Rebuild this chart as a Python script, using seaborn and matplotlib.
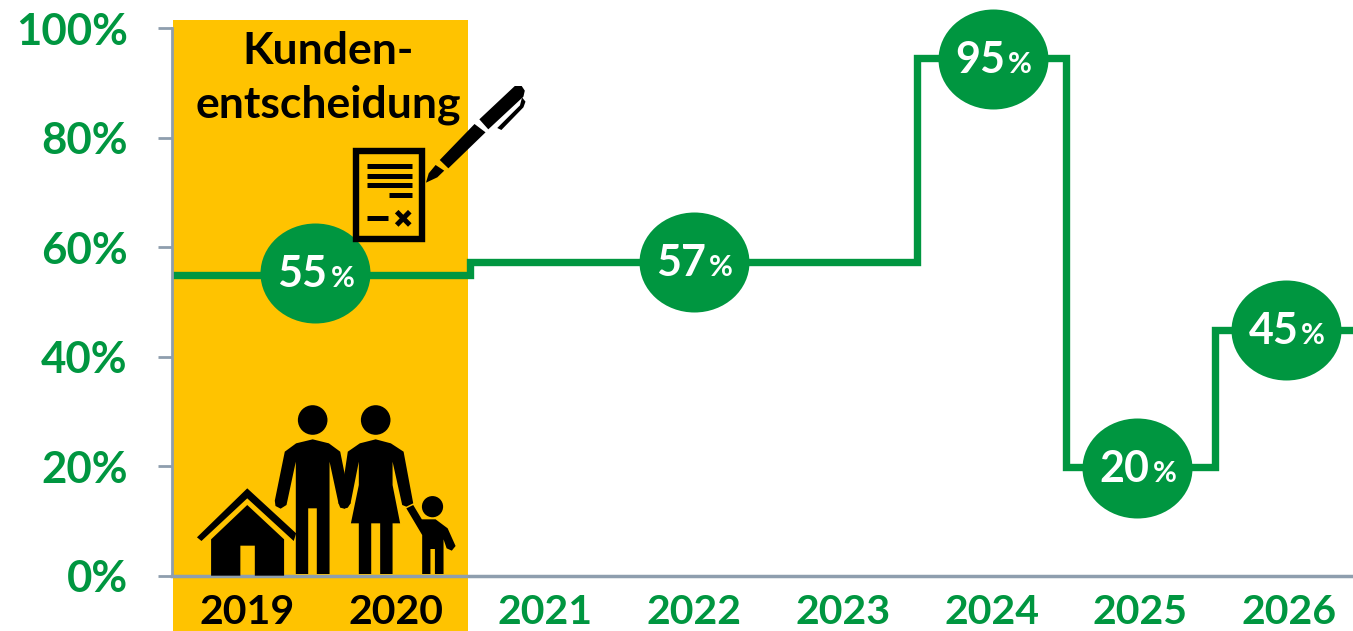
import matplotlib
matplotlib.use("Agg")
import matplotlib.pyplot as plt
from matplotlib.patches import Circle, Polygon, Rectangle
from matplotlib.path import Path
from matplotlib.transforms import Affine2D
import pandas as pd
import seaborn as sns

years = [2019, 2020, 2021, 2022, 2023, 2024, 2025, 2026]
shares = [55, 55, 57.3, 57.3, 57.3, 94.6, 19.8, 44.8]
bubble_years = [2019.46, 2022, 2024.01, 2024.98, 2025.98]
bubble_values = [55.3, 57.3, 94.4, 19.6, 44.8]
bubble_labels = ["55", "57", "95", "20", "45"]
y_ticks = [0, 20, 40, 60, 80, 100]
y_labels = ["0%", "20%", "40%", "60%", "80%", "100%"]
band_years = (2018.5, 2020.485)
band_label = "Kunden-\nentscheidung"

GREEN = "#009640"
YELLOW = "#FFC300"
GREY = "#8E9EAE"

sns.set_theme(style="white")
plt.rcParams["font.family"] = ["Lato", "DejaVu Sans"]

W, H = 1353, 631
fig = plt.figure(figsize=(W / 100, H / 100), dpi=100)
ax = fig.add_axes([172 / W, (H - 575.5) / H, (W - 172) / W, 555.5 / H])

# line runs out to the edges of the axes, so repeat first and last value
line_df = pd.DataFrame({
    "year": [band_years[0]] + years + [years[-1] + 0.5],
    "share": [shares[0]] + shares + [shares[-1]],
})
ax.axvspan(band_years[0], band_years[1], ymin=-0.1, ymax=1, color=YELLOW, lw=0, clip_on=False, zorder=0)
sns.lineplot(data=line_df, x="year", y="share", drawstyle="steps-mid", color=GREEN, lw=5.3,
             errorbar=None, ax=ax, zorder=2, solid_joinstyle="miter")

# bubbles are a bit wider than high
ellipse = Path.unit_circle().transformed(Affine2D().scale(1, 100 / 110))
sns.scatterplot(x=bubble_years, y=bubble_values, marker=ellipse, s=(110 * 0.72) ** 2, color=GREEN,
                linewidth=0, ax=ax, zorder=3, clip_on=False)
for x, y, lab in zip(bubble_years, bubble_values, bubble_labels):
    ax.annotate(lab, (x, y), xytext=(12, -14), textcoords="offset pixels", ha="right", va="baseline",
                color="white", fontsize=31, fontweight="bold", zorder=4)
    ax.annotate("%", (x, y), xytext=(15, -14), textcoords="offset pixels", ha="left", va="baseline",
                color="white", fontsize=21, fontweight="bold", zorder=4)

ax.set_xlim(2019 + (172 - 247) / 148.9, 2019 + (W - 247) / 148.9)
ax.set_ylim(0, 555.5 / 5.47)
ax.set_xlabel("")
ax.set_ylabel("")
ax.set_xticks(years)
ax.set_xticklabels([str(y) for y in years], fontsize=29.5, fontweight="bold", color=GREEN)
ax.get_xticklabels()[0].set_color("black")
ax.get_xticklabels()[1].set_color("black")
ax.set_yticks(y_ticks)
ax.set_yticklabels(y_labels, fontsize=31.5, fontweight="bold", color=GREEN)
ax.tick_params(axis="x", length=0, pad=13)
ax.tick_params(axis="y", left=True, length=10, width=2, color=GREY, pad=22)
sns.despine(ax=ax, top=True, right=True)
ax.spines["left"].set_bounds(0, 100)
ax.spines["left"].set_color(GREY)
ax.spines["left"].set_linewidth(2)
ax.spines["bottom"].set_color(GREY)
ax.spines["bottom"].set_linewidth(2.5)
ax.spines["bottom"].set_zorder(5)

# overlay in image pixels for the pictograms
ov = fig.add_axes([0, 0, 1, 1], facecolor="none")
ov.set_xlim(0, W)
ov.set_ylim(H, 0)
ov.axis("off")
ov.text(328, 78, band_label, ha="center", va="center", fontsize=32, fontweight="bold", color="black",
        linespacing=1.38)


def top_pt(p):
    return p[0] / 2.904, p[1] / 3


def low_pt(p):
    return p[0] / 2.904, 380 + p[1] / 3


def poly(points, conv, color="black"):
    ov.add_patch(Polygon([conv(p) for p in points], closed=True, fc=color, ec="none"))


# contract
x0, y0 = top_pt((1035, 453))
x1, y1 = top_pt((1226, 716))
ov.add_patch(Rectangle((x0, y0), x1 - x0, y1 - y0, fc="none", ec="black", lw=4.6, joinstyle="miter"))
for a, b, y in [(1065, 1195, 498), (1065, 1195, 527), (1065, 1195, 555), (1130, 1195, 584), (1065, 1127, 655)]:
    xa, ya = top_pt((a, y))
    xb, _ = top_pt((b, y))
    ov.plot([xa, xb], [ya, ya], color="black", lw=3.6, solid_capstyle="butt")
for p, q in [((1152, 635), (1190, 675)), ((1190, 635), (1152, 675))]:
    pa, qa = top_pt(p), top_pt(q)
    ov.plot([pa[0], qa[0]], [pa[1], qa[1]], color="black", lw=3.6, solid_capstyle="butt")

# pen
poly([(1237, 548), (1245, 520), (1265, 495), (1290, 512), (1270, 532)], top_pt)
poly([(1277, 480), (1378, 372), (1410, 397), (1302, 505)], top_pt)
poly([(1392, 358), (1495, 258), (1515, 258), (1524, 272), (1520, 290), (1418, 388)], top_pt)
poly([(1516, 292), (1526, 305), (1520, 322), (1456, 390), (1444, 384), (1510, 316)], top_pt)

# family
ov.add_patch(Circle(low_pt((908, 120)), 14.8, fc="black", ec="none"))
ov.add_patch(Circle(low_pt((1091, 120)), 14.8, fc="black", ec="none"))
ov.add_patch(Circle(low_pt((1256, 380)), 10.6, fc="black", ec="none"))
poly([(827, 215), (860, 190), (908, 178), (955, 190), (988, 215), (1018, 370), (1010, 383), (1000, 386),
      (988, 383), (983, 370), (957, 245), (957, 582), (920, 582), (920, 385), (895, 385), (895, 582),
      (859, 582), (859, 245), (832, 375), (815, 386), (800, 378), (798, 362)], low_pt)
poly([(1010, 215), (1045, 190), (1091, 178), (1135, 190), (1172, 215), (1200, 370), (1180, 380),
      (1168, 375), (1140, 245), (1140, 315), (1162, 430), (1140, 430), (1140, 582), (1104, 582), (1104, 430),
      (1078, 430), (1078, 582), (1042, 582), (1042, 430), (1019, 430), (1042, 315), (1042, 245), (1018, 370),
      (1000, 386), (983, 370), (1002, 270)], low_pt)
poly([(1200, 375), (1225, 418), (1265, 418), (1300, 445), (1323, 498), (1312, 512), (1297, 505), (1288, 478),
      (1288, 582), (1263, 582), (1263, 507), (1250, 507), (1250, 582), (1226, 582), (1226, 465), (1180, 385)],
     low_pt)

# house
poly([(572, 472), (718, 325), (860, 460), (853, 483), (718, 355), (585, 483)], low_pt)
poly([(613, 478), (718, 375), (825, 478), (825, 587), (740, 587), (740, 497), (698, 497), (698, 587), (613, 587)],
     low_pt)

fig.savefig("out.png", dpi=100)
